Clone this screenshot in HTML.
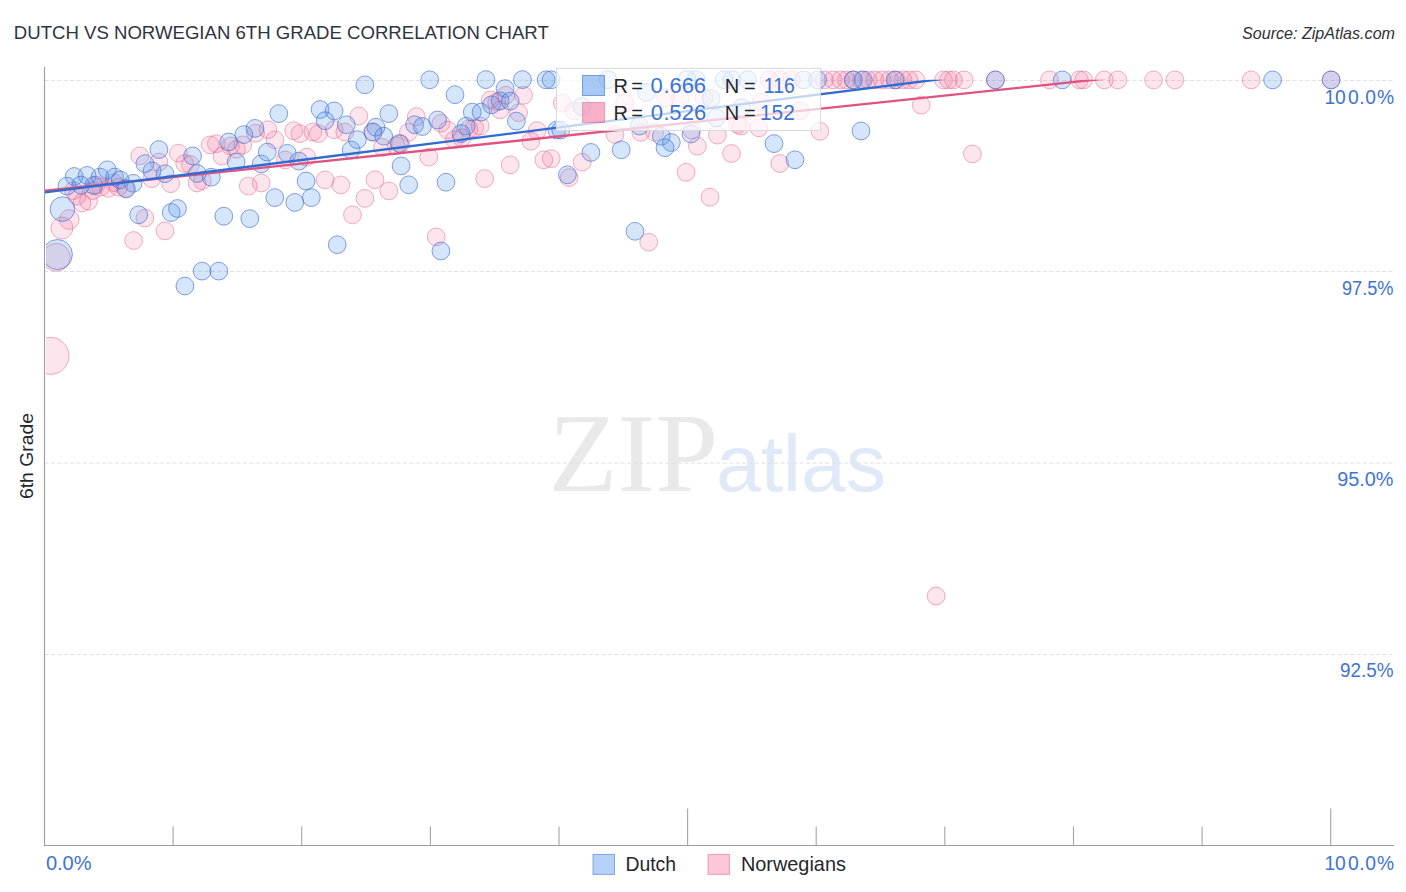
<!DOCTYPE html>
<html lang="en">
<head>
<meta charset="utf-8">
<title>Dutch vs Norwegian 6th Grade Correlation Chart</title>
<style>
html,body{margin:0;padding:0;background:#fff;}
body{width:1406px;height:892px;overflow:hidden;font-family:"Liberation Sans",sans-serif;}
svg{display:block;}
text{font-family:"Liberation Sans",sans-serif;}
.title{font-size:19px;fill:#31343f;}
.src{font-size:16.2px;font-style:italic;fill:#2e3138;}
.grid{stroke:#e0e0e0;stroke-width:1;stroke-dasharray:4 2.4;}
.ax{stroke:#9c9c9c;stroke-width:1.1;}
.tk{stroke:#a4a4a4;stroke-width:1.1;}
.tick{font-size:19.3px;fill:#4174cf;}
.b{fill:rgba(80,145,235,0.24);stroke:rgba(60,105,205,0.62);stroke-width:1;}
.p{fill:rgba(245,100,150,0.17);stroke:rgba(228,95,135,0.5);stroke-width:1;}
.lb{fill:none;stroke:#2f6bd0;stroke-width:2.3;}
.lp{fill:none;stroke:#e0527f;stroke-width:2.3;}
.leg{font-size:20px;fill:#25272c;}
.legv{font-size:22px;fill:#3a73d2;}
.blegend{font-size:20.3px;fill:#25272c;}
.ylab{font-size:18.6px;fill:#25272c;}
.wz{font-family:"Liberation Serif",serif;font-size:111.5px;fill:#e9e9e9;}
.wa{font-size:80px;fill:#dfe9f8;}
</style>
</head>
<body>
<svg width="1406" height="892" viewBox="0 0 1406 892">
<defs><clipPath id="plot"><rect x="46" y="60" width="1351" height="786"/></clipPath><clipPath id="lines"><rect x="45" y="79.7" width="1352" height="766"/></clipPath></defs>
<rect width="1406" height="892" fill="#fff"/>
<text class="title" x="13.8" y="39.4" textLength="535" lengthAdjust="spacingAndGlyphs">DUTCH VS NORWEGIAN 6TH GRADE CORRELATION CHART</text>
<text class="src" x="1395" y="38.9" text-anchor="end" textLength="153" lengthAdjust="spacingAndGlyphs">Source: ZipAtlas.com</text>
<!-- watermark -->
<text class="wz" x="548.5" y="490.9" textLength="169.6" lengthAdjust="spacingAndGlyphs">ZIP</text>
<text class="wa" x="716" y="490.9" textLength="170" lengthAdjust="spacingAndGlyphs">atlas</text>
<!-- grid -->
<line class="grid" x1="44.5" y1="80.5" x2="1394" y2="80.5"/>
<line class="grid" x1="44.5" y1="271.5" x2="1394" y2="271.5"/>
<line class="grid" x1="44.5" y1="463.1" x2="1394" y2="463.1"/>
<line class="grid" x1="44.5" y1="654.5" x2="1394" y2="654.5"/>
<!-- axes -->
<line class="ax" x1="44.5" y1="67" x2="44.5" y2="846.1"/>
<line class="ax" x1="43.9" y1="845.5" x2="1394" y2="845.5"/>
<line class="tk" x1="173.1" y1="826.5" x2="173.1" y2="845.5"/>
<line class="tk" x1="301.7" y1="826.5" x2="301.7" y2="845.5"/>
<line class="tk" x1="430.4" y1="826.5" x2="430.4" y2="845.5"/>
<line class="tk" x1="559.0" y1="826.5" x2="559.0" y2="845.5"/>
<line class="tk" x1="687.6" y1="808.5" x2="687.6" y2="845.5"/>
<line class="tk" x1="816.2" y1="826.5" x2="816.2" y2="845.5"/>
<line class="tk" x1="944.8" y1="826.5" x2="944.8" y2="845.5"/>
<line class="tk" x1="1073.5" y1="826.5" x2="1073.5" y2="845.5"/>
<line class="tk" x1="1202.1" y1="826.5" x2="1202.1" y2="845.5"/>
<line class="tk" x1="1330.7" y1="808.5" x2="1330.7" y2="845.5"/>
<!-- points -->
<g clip-path="url(#plot)">
<circle class="p" cx="139.8" cy="155.8" r="8.9"/>
<circle class="p" cx="158.9" cy="162.0" r="8.9"/>
<circle class="p" cx="178.4" cy="153.2" r="8.9"/>
<circle class="p" cx="184.7" cy="163.5" r="8.9"/>
<circle class="p" cx="190.4" cy="164.5" r="8.9"/>
<circle class="p" cx="151.8" cy="178.7" r="8.9"/>
<circle class="p" cx="170.7" cy="183.7" r="8.9"/>
<circle class="p" cx="197.0" cy="183.0" r="8.9"/>
<circle class="p" cx="144.9" cy="218.0" r="8.9"/>
<circle class="p" cx="165.0" cy="230.9" r="8.9"/>
<circle class="p" cx="133.6" cy="240.5" r="8.9"/>
<circle class="p" cx="69.2" cy="219.5" r="9.9"/>
<circle class="p" cx="61.9" cy="228.0" r="11"/>
<circle class="p" cx="56.3" cy="257.3" r="14"/>
<circle class="p" cx="50.5" cy="355.9" r="18.5"/>
<circle class="p" cx="96.1" cy="185.0" r="8.9"/>
<circle class="p" cx="100.6" cy="187.2" r="8.9"/>
<circle class="p" cx="108.4" cy="188.3" r="8.9"/>
<circle class="p" cx="118.5" cy="187.2" r="8.9"/>
<circle class="p" cx="125.2" cy="188.3" r="8.9"/>
<circle class="p" cx="92.7" cy="190.6" r="8.9"/>
<circle class="p" cx="73.6" cy="190.6" r="8.9"/>
<circle class="p" cx="77.0" cy="196.2" r="8.9"/>
<circle class="p" cx="82.0" cy="203.0" r="8.9"/>
<circle class="p" cx="88.5" cy="201.2" r="8.9"/>
<circle class="p" cx="114.0" cy="182.7" r="8.9"/>
<circle class="p" cx="210.2" cy="144.9" r="8.9"/>
<circle class="p" cx="216.4" cy="143.7" r="8.9"/>
<circle class="p" cx="222.0" cy="156.1" r="8.9"/>
<circle class="p" cx="230.4" cy="146.0" r="8.9"/>
<circle class="p" cx="236.5" cy="149.3" r="8.9"/>
<circle class="p" cx="242.7" cy="144.9" r="8.9"/>
<circle class="p" cx="255.6" cy="133.1" r="8.9"/>
<circle class="p" cx="267.9" cy="129.7" r="8.9"/>
<circle class="p" cx="274.9" cy="139.8" r="8.9"/>
<circle class="p" cx="293.7" cy="130.8" r="8.9"/>
<circle class="p" cx="299.9" cy="133.6" r="8.9"/>
<circle class="p" cx="312.8" cy="132.0" r="8.9"/>
<circle class="p" cx="318.4" cy="133.6" r="8.9"/>
<circle class="p" cx="334.1" cy="129.7" r="8.9"/>
<circle class="p" cx="344.8" cy="132.0" r="8.9"/>
<circle class="p" cx="285.3" cy="160.0" r="8.9"/>
<circle class="p" cx="306.6" cy="157.2" r="8.9"/>
<circle class="p" cx="248.3" cy="186.1" r="8.9"/>
<circle class="p" cx="261.2" cy="183.0" r="8.9"/>
<circle class="p" cx="325.1" cy="179.8" r="8.9"/>
<circle class="p" cx="340.8" cy="184.9" r="8.9"/>
<circle class="p" cx="202.3" cy="180.7" r="8.9"/>
<circle class="p" cx="358.8" cy="116.0" r="8.9"/>
<circle class="p" cx="416.3" cy="116.6" r="8.9"/>
<circle class="p" cx="408.4" cy="132.3" r="8.9"/>
<circle class="p" cx="372.5" cy="131.7" r="8.9"/>
<circle class="p" cx="382.6" cy="147.4" r="8.9"/>
<circle class="p" cx="396.1" cy="145.7" r="8.9"/>
<circle class="p" cx="400.6" cy="144.1" r="8.9"/>
<circle class="p" cx="440.9" cy="123.3" r="8.9"/>
<circle class="p" cx="447.7" cy="130.0" r="8.9"/>
<circle class="p" cx="454.4" cy="139.6" r="8.9"/>
<circle class="p" cx="461.7" cy="137.9" r="8.9"/>
<circle class="p" cx="469.0" cy="128.9" r="8.9"/>
<circle class="p" cx="474.6" cy="127.8" r="8.9"/>
<circle class="p" cx="480.2" cy="126.1" r="8.9"/>
<circle class="p" cx="490.3" cy="99.8" r="8.9"/>
<circle class="p" cx="428.8" cy="157.2" r="8.9"/>
<circle class="p" cx="375.0" cy="179.7" r="8.9"/>
<circle class="p" cx="388.8" cy="190.9" r="8.9"/>
<circle class="p" cx="364.9" cy="198.4" r="8.9"/>
<circle class="p" cx="352.5" cy="214.8" r="8.9"/>
<circle class="p" cx="436.2" cy="236.9" r="8.9"/>
<circle class="p" cx="484.7" cy="178.6" r="8.9"/>
<circle class="p" cx="505.7" cy="95.3" r="8.9"/>
<circle class="p" cx="523.6" cy="95.3" r="8.9"/>
<circle class="p" cx="496.7" cy="102.0" r="8.9"/>
<circle class="p" cx="500.1" cy="109.9" r="8.9"/>
<circle class="p" cx="518.6" cy="112.7" r="8.9"/>
<circle class="p" cx="537.1" cy="130.6" r="8.9"/>
<circle class="p" cx="530.9" cy="141.2" r="8.9"/>
<circle class="p" cx="615.0" cy="134.5" r="8.9"/>
<circle class="p" cx="640.8" cy="132.3" r="8.9"/>
<circle class="p" cx="543.8" cy="159.8" r="8.9"/>
<circle class="p" cx="551.2" cy="158.6" r="8.9"/>
<circle class="p" cx="510.2" cy="164.9" r="8.9"/>
<circle class="p" cx="582.1" cy="162.2" r="8.9"/>
<circle class="p" cx="569.1" cy="177.6" r="8.9"/>
<circle class="p" cx="648.7" cy="242.2" r="8.9"/>
<circle class="p" cx="562.3" cy="103.1" r="8.9"/>
<circle class="p" cx="574.1" cy="111.0" r="8.9"/>
<circle class="p" cx="624.6" cy="103.1" r="8.9"/>
<circle class="p" cx="769.0" cy="79.6" r="8.9"/>
<circle class="p" cx="780.0" cy="79.6" r="8.9"/>
<circle class="p" cx="791.4" cy="79.6" r="8.9"/>
<circle class="p" cx="665.8" cy="97.5" r="8.9"/>
<circle class="p" cx="680.4" cy="98.6" r="8.9"/>
<circle class="p" cx="761.1" cy="102.0" r="8.9"/>
<circle class="p" cx="703.9" cy="97.5" r="8.9"/>
<circle class="p" cx="737.6" cy="124.4" r="8.9"/>
<circle class="p" cx="740.9" cy="126.1" r="8.9"/>
<circle class="p" cx="758.9" cy="127.8" r="8.9"/>
<circle class="p" cx="691.6" cy="130.0" r="8.9"/>
<circle class="p" cx="717.4" cy="135.1" r="8.9"/>
<circle class="p" cx="697.4" cy="146.2" r="8.9"/>
<circle class="p" cx="731.5" cy="153.5" r="8.9"/>
<circle class="p" cx="779.8" cy="163.5" r="8.9"/>
<circle class="p" cx="654.6" cy="132.3" r="8.9"/>
<circle class="p" cx="686.1" cy="172.3" r="8.9"/>
<circle class="p" cx="710.0" cy="197.2" r="8.9"/>
<circle class="p" cx="921.2" cy="105.1" r="8.9"/>
<circle class="p" cx="800.1" cy="110.9" r="8.9"/>
<circle class="p" cx="819.9" cy="131.3" r="8.9"/>
<circle class="p" cx="972.4" cy="153.9" r="8.9"/>
<circle class="p" cx="936.2" cy="596.0" r="8.9"/>
<circle class="p" cx="824.3" cy="79.9" r="8.9"/>
<circle class="p" cx="833.0" cy="79.9" r="8.9"/>
<circle class="p" cx="840.5" cy="79.9" r="8.9"/>
<circle class="p" cx="846.5" cy="79.9" r="8.9"/>
<circle class="p" cx="853.2" cy="79.9" r="8.9"/>
<circle class="p" cx="861.3" cy="79.9" r="8.9"/>
<circle class="p" cx="868.0" cy="79.9" r="8.9"/>
<circle class="p" cx="874.8" cy="79.9" r="8.9"/>
<circle class="p" cx="882.2" cy="79.9" r="8.9"/>
<circle class="p" cx="889.6" cy="79.9" r="8.9"/>
<circle class="p" cx="896.3" cy="79.9" r="8.9"/>
<circle class="p" cx="903.0" cy="79.9" r="8.9"/>
<circle class="p" cx="909.0" cy="79.9" r="8.9"/>
<circle class="p" cx="915.8" cy="79.9" r="8.9"/>
<circle class="p" cx="943.5" cy="79.9" r="8.9"/>
<circle class="p" cx="948.5" cy="79.9" r="8.9"/>
<circle class="p" cx="953.5" cy="79.9" r="8.9"/>
<circle class="p" cx="964.1" cy="79.9" r="8.9"/>
<circle class="p" cx="995.4" cy="79.9" r="8.9"/>
<circle class="p" cx="1049.5" cy="79.9" r="8.9"/>
<circle class="p" cx="1079.4" cy="79.9" r="8.9"/>
<circle class="p" cx="1083.6" cy="79.9" r="8.9"/>
<circle class="p" cx="1104.3" cy="79.9" r="8.9"/>
<circle class="p" cx="1117.8" cy="79.9" r="8.9"/>
<circle class="p" cx="1153.6" cy="79.9" r="8.9"/>
<circle class="p" cx="1174.9" cy="79.9" r="8.9"/>
<circle class="p" cx="1251.2" cy="79.9" r="8.9"/>
<circle class="p" cx="1331.1" cy="79.9" r="8.9"/>
<circle class="b" cx="74.2" cy="176.5" r="8.9"/>
<circle class="b" cx="66.9" cy="186.1" r="8.9"/>
<circle class="b" cx="87.1" cy="175.4" r="8.9"/>
<circle class="b" cx="80.9" cy="185.0" r="8.9"/>
<circle class="b" cx="100.0" cy="177.1" r="8.9"/>
<circle class="b" cx="107.3" cy="169.8" r="8.9"/>
<circle class="b" cx="93.8" cy="185.5" r="8.9"/>
<circle class="b" cx="114.6" cy="177.1" r="8.9"/>
<circle class="b" cx="120.2" cy="179.9" r="8.9"/>
<circle class="b" cx="133.1" cy="183.3" r="8.9"/>
<circle class="b" cx="126.4" cy="188.9" r="8.9"/>
<circle class="b" cx="158.9" cy="149.6" r="8.9"/>
<circle class="b" cx="144.9" cy="163.6" r="8.9"/>
<circle class="b" cx="152.1" cy="170.9" r="8.9"/>
<circle class="b" cx="165.0" cy="173.7" r="8.9"/>
<circle class="b" cx="192.6" cy="155.9" r="8.9"/>
<circle class="b" cx="138.7" cy="214.8" r="8.9"/>
<circle class="b" cx="171.2" cy="212.5" r="8.9"/>
<circle class="b" cx="177.5" cy="208.5" r="8.9"/>
<circle class="b" cx="62.4" cy="209.1" r="12.3"/>
<circle class="b" cx="57.4" cy="254.5" r="15"/>
<circle class="b" cx="197.3" cy="173.5" r="8.9"/>
<circle class="b" cx="211.3" cy="177.2" r="8.9"/>
<circle class="b" cx="228.6" cy="142.0" r="8.9"/>
<circle class="b" cx="236.1" cy="162.0" r="8.9"/>
<circle class="b" cx="243.8" cy="134.6" r="8.9"/>
<circle class="b" cx="255.0" cy="128.4" r="8.9"/>
<circle class="b" cx="261.2" cy="163.9" r="8.9"/>
<circle class="b" cx="267.3" cy="152.1" r="8.9"/>
<circle class="b" cx="278.8" cy="113.6" r="8.9"/>
<circle class="b" cx="287.3" cy="153.3" r="8.9"/>
<circle class="b" cx="298.8" cy="161.1" r="8.9"/>
<circle class="b" cx="320.1" cy="109.5" r="8.9"/>
<circle class="b" cx="334.1" cy="110.9" r="8.9"/>
<circle class="b" cx="325.1" cy="120.7" r="8.9"/>
<circle class="b" cx="306.1" cy="181.0" r="8.9"/>
<circle class="b" cx="346.3" cy="124.8" r="8.9"/>
<circle class="b" cx="351.2" cy="150.0" r="8.9"/>
<circle class="b" cx="274.8" cy="197.6" r="8.9"/>
<circle class="b" cx="294.8" cy="202.4" r="8.9"/>
<circle class="b" cx="311.3" cy="197.6" r="8.9"/>
<circle class="b" cx="223.8" cy="216.2" r="8.9"/>
<circle class="b" cx="249.8" cy="218.6" r="8.9"/>
<circle class="b" cx="337.2" cy="244.7" r="8.9"/>
<circle class="b" cx="202.1" cy="271.1" r="8.9"/>
<circle class="b" cx="218.8" cy="271.1" r="8.9"/>
<circle class="b" cx="184.9" cy="286.0" r="8.9"/>
<circle class="b" cx="364.9" cy="84.8" r="8.9"/>
<circle class="b" cx="429.7" cy="79.8" r="8.9"/>
<circle class="b" cx="485.9" cy="79.6" r="8.9"/>
<circle class="b" cx="455.0" cy="94.7" r="8.9"/>
<circle class="b" cx="388.8" cy="113.6" r="8.9"/>
<circle class="b" cx="375.9" cy="127.2" r="8.9"/>
<circle class="b" cx="373.1" cy="132.3" r="8.9"/>
<circle class="b" cx="383.7" cy="136.2" r="8.9"/>
<circle class="b" cx="357.4" cy="139.6" r="8.9"/>
<circle class="b" cx="414.6" cy="124.7" r="8.9"/>
<circle class="b" cx="422.4" cy="126.5" r="8.9"/>
<circle class="b" cx="437.6" cy="120.0" r="8.9"/>
<circle class="b" cx="399.4" cy="143.5" r="8.9"/>
<circle class="b" cx="466.2" cy="126.1" r="8.9"/>
<circle class="b" cx="461.1" cy="133.6" r="8.9"/>
<circle class="b" cx="472.3" cy="112.1" r="8.9"/>
<circle class="b" cx="481.1" cy="112.1" r="8.9"/>
<circle class="b" cx="491.5" cy="104.8" r="8.9"/>
<circle class="b" cx="401.1" cy="165.9" r="8.9"/>
<circle class="b" cx="408.7" cy="184.8" r="8.9"/>
<circle class="b" cx="446.0" cy="182.2" r="8.9"/>
<circle class="b" cx="440.9" cy="251.0" r="8.9"/>
<circle class="b" cx="522.5" cy="79.6" r="8.9"/>
<circle class="b" cx="546.1" cy="79.8" r="8.9"/>
<circle class="b" cx="551.1" cy="79.8" r="8.9"/>
<circle class="b" cx="505.1" cy="88.6" r="8.9"/>
<circle class="b" cx="500.1" cy="100.9" r="8.9"/>
<circle class="b" cx="510.2" cy="101.1" r="8.9"/>
<circle class="b" cx="516.4" cy="121.1" r="8.9"/>
<circle class="b" cx="556.7" cy="130.0" r="8.9"/>
<circle class="b" cx="560.7" cy="130.0" r="8.9"/>
<circle class="b" cx="590.9" cy="152.4" r="8.9"/>
<circle class="b" cx="621.2" cy="149.8" r="8.9"/>
<circle class="b" cx="567.4" cy="174.8" r="8.9"/>
<circle class="b" cx="635.0" cy="231.3" r="8.9"/>
<circle class="b" cx="607.8" cy="79.6" r="8.9"/>
<circle class="b" cx="582.0" cy="106.5" r="8.9"/>
<circle class="b" cx="639.5" cy="126.1" r="8.9"/>
<circle class="b" cx="646.5" cy="92.5" r="8.9"/>
<circle class="b" cx="687.1" cy="79.6" r="8.9"/>
<circle class="b" cx="696.1" cy="79.6" r="8.9"/>
<circle class="b" cx="724.1" cy="79.6" r="8.9"/>
<circle class="b" cx="732.0" cy="79.6" r="8.9"/>
<circle class="b" cx="747.7" cy="79.6" r="8.9"/>
<circle class="b" cx="711.2" cy="98.6" r="8.9"/>
<circle class="b" cx="741.5" cy="107.6" r="8.9"/>
<circle class="b" cx="716.3" cy="117.7" r="8.9"/>
<circle class="b" cx="661.3" cy="136.2" r="8.9"/>
<circle class="b" cx="671.3" cy="142.5" r="8.9"/>
<circle class="b" cx="665.0" cy="147.7" r="8.9"/>
<circle class="b" cx="691.0" cy="134.0" r="8.9"/>
<circle class="b" cx="774.0" cy="143.6" r="8.9"/>
<circle class="b" cx="795.0" cy="159.8" r="8.9"/>
<circle class="b" cx="803.5" cy="79.9" r="8.9"/>
<circle class="b" cx="817.6" cy="79.9" r="8.9"/>
<circle class="b" cx="853.2" cy="79.9" r="8.9"/>
<circle class="b" cx="863.3" cy="79.9" r="8.9"/>
<circle class="b" cx="895.0" cy="79.9" r="8.9"/>
<circle class="b" cx="861.0" cy="131.0" r="8.9"/>
<circle class="b" cx="995.4" cy="79.9" r="8.9"/>
<circle class="b" cx="1062.3" cy="79.9" r="8.9"/>
<circle class="b" cx="1272.6" cy="79.9" r="8.9"/>
<circle class="b" cx="1331.1" cy="79.9" r="8.9"/>
</g>
<g clip-path="url(#lines)">
<path class="lp" d="M45 190.64 L1105.4 78.6"/>
<path class="lb" d="M45 192.47 L943.3 78.75"/>
</g>
<!-- stats legend -->
<rect x="556.5" y="68.3" width="264" height="62.2" fill="rgba(255,255,255,0.7)" stroke="#d9d9d9" stroke-width="1"/>
<rect x="582.5" y="75.5" width="22" height="20" fill="rgba(80,145,235,0.5)" stroke="rgba(55,110,210,0.6)" stroke-width="1"/>
<rect x="582.5" y="102.5" width="22" height="20" fill="rgba(242,100,150,0.5)" stroke="rgba(232,90,130,0.5)" stroke-width="1"/>
<text class="leg" x="613.42 627.87 631.22" y="92.9">R =</text>
<text class="legv" x="650.48 663.39 669.41 681.66 693.76" y="92.9">0.666</text>
<text class="leg" x="724.77 739.22 743.92" y="92.9">N =</text>
<text class="legv" x="763.8" y="92.9" textLength="30.94" lengthAdjust="spacingAndGlyphs">116</text>
<text class="leg" x="613.42 627.87 631.22" y="119.8">R =</text>
<text class="legv" x="650.73 663.39 669.20 681.78 693.96" y="119.8">0.526</text>
<text class="leg" x="724.77 739.22 743.92" y="119.8">N =</text>
<text class="legv" x="760.0" y="119.8" textLength="34.87" lengthAdjust="spacingAndGlyphs">152</text>
<!-- tick labels -->
<text class="tick" x="1324.42 1335.08 1347.98 1359.17 1365.13 1377.02" y="103.8">100.0%</text>
<text class="tick" x="1393.5" y="294.5" text-anchor="end" textLength="51.5" lengthAdjust="spacingAndGlyphs">97.5%</text>
<text class="tick" x="1393.5" y="485.6" text-anchor="end" textLength="56.2" lengthAdjust="spacingAndGlyphs">95.0%</text>
<text class="tick" x="1393.5" y="677.3" text-anchor="end" textLength="53.5" lengthAdjust="spacingAndGlyphs">92.5%</text>
<text class="tick" x="45.9" y="869.8" textLength="45.7" lengthAdjust="spacingAndGlyphs">0.0%</text>
<text class="tick" x="1324.42 1335.08 1347.98 1359.17 1365.13 1377.02" y="869.8">100.0%</text>
<!-- y title -->
<text class="ylab" transform="translate(33.3 456.1) rotate(-90)" text-anchor="middle" textLength="86" lengthAdjust="spacingAndGlyphs">6th Grade</text>
<!-- bottom legend -->
<rect x="593" y="854.4" width="21.5" height="20" fill="rgba(80,145,235,0.42)" stroke="rgba(55,110,210,0.55)" stroke-width="1"/>
<text class="blegend" x="625.4" y="870.9" textLength="50.6" lengthAdjust="spacingAndGlyphs">Dutch</text>
<rect x="708" y="854.4" width="21.5" height="20" fill="rgba(245,100,150,0.36)" stroke="rgba(232,90,130,0.5)" stroke-width="1"/>
<text class="blegend" x="740.9" y="870.9" textLength="105" lengthAdjust="spacingAndGlyphs">Norwegians</text>
</svg>
</body>
</html>
